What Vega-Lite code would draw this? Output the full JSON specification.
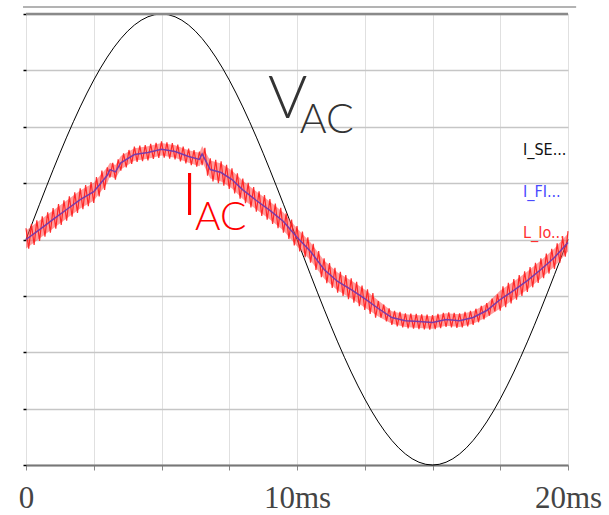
{
"$schema": "https://vega.github.io/schema/vega-lite/v6.json",
"width": 542, "height": 451,
"autosize": {"type": "none"},
"padding": {"left": 26, "top": 14, "right": 41, "bottom": 50},
"background": "white",
"config": {"view": {"stroke": null}},
"datasets": {
"volt": [{"t":0,"v":0},{"t":0.25,"v":0.0785},{"t":0.5,"v":0.1564},{"t":0.75,"v":0.2334},{"t":1,"v":0.309},{"t":1.25,"v":0.3827},{"t":1.5,"v":0.454},{"t":1.75,"v":0.5225},{"t":2,"v":0.5878},{"t":2.25,"v":0.6494},{"t":2.5,"v":0.7071},{"t":2.75,"v":0.7604},{"t":3,"v":0.809},{"t":3.25,"v":0.8526},{"t":3.5,"v":0.891},{"t":3.75,"v":0.9239},{"t":4,"v":0.9511},{"t":4.25,"v":0.9724},{"t":4.5,"v":0.9877},{"t":4.75,"v":0.9969},{"t":5,"v":1},{"t":5.25,"v":0.9969},{"t":5.5,"v":0.9877},{"t":5.75,"v":0.9724},{"t":6,"v":0.9511},{"t":6.25,"v":0.9239},{"t":6.5,"v":0.891},{"t":6.75,"v":0.8526},{"t":7,"v":0.809},{"t":7.25,"v":0.7604},{"t":7.5,"v":0.7071},{"t":7.75,"v":0.6494},{"t":8,"v":0.5878},{"t":8.25,"v":0.5225},{"t":8.5,"v":0.454},{"t":8.75,"v":0.3827},{"t":9,"v":0.309},{"t":9.25,"v":0.2334},{"t":9.5,"v":0.1564},{"t":9.75,"v":0.0785},{"t":10,"v":0},{"t":10.25,"v":-0.0785},{"t":10.5,"v":-0.1564},{"t":10.75,"v":-0.2334},{"t":11,"v":-0.309},{"t":11.25,"v":-0.3827},{"t":11.5,"v":-0.454},{"t":11.75,"v":-0.5225},{"t":12,"v":-0.5878},{"t":12.25,"v":-0.6494},{"t":12.5,"v":-0.7071},{"t":12.75,"v":-0.7604},{"t":13,"v":-0.809},{"t":13.25,"v":-0.8526},{"t":13.5,"v":-0.891},{"t":13.75,"v":-0.9239},{"t":14,"v":-0.9511},{"t":14.25,"v":-0.9724},{"t":14.5,"v":-0.9877},{"t":14.75,"v":-0.9969},{"t":15,"v":-1},{"t":15.25,"v":-0.9969},{"t":15.5,"v":-0.9877},{"t":15.75,"v":-0.9724},{"t":16,"v":-0.9511},{"t":16.25,"v":-0.9239},{"t":16.5,"v":-0.891},{"t":16.75,"v":-0.8526},{"t":17,"v":-0.809},{"t":17.25,"v":-0.7604},{"t":17.5,"v":-0.7071},{"t":17.75,"v":-0.6494},{"t":18,"v":-0.5878},{"t":18.25,"v":-0.5225},{"t":18.5,"v":-0.454},{"t":18.75,"v":-0.3827},{"t":19,"v":-0.309},{"t":19.25,"v":-0.2334},{"t":19.5,"v":-0.1564},{"t":19.75,"v":-0.0785},{"t":20,"v":0}],
"ripple": [{"t":0,"i":0.05},{"t":0.1,"i":-0.041},{"t":0.2,"i":0.068},{"t":0.3,"i":-0.024},{"t":0.4,"i":0.085},{"t":0.5,"i":-0.006},{"t":0.6,"i":0.103},{"t":0.7,"i":0.012},{"t":0.8,"i":0.121},{"t":0.9,"i":0.03},{"t":1,"i":0.139},{"t":1.1,"i":0.048},{"t":1.2,"i":0.157},{"t":1.3,"i":0.065},{"t":1.4,"i":0.174},{"t":1.5,"i":0.083},{"t":1.6,"i":0.192},{"t":1.7,"i":0.101},{"t":1.8,"i":0.209},{"t":1.9,"i":0.118},{"t":2,"i":0.227},{"t":2.1,"i":0.134},{"t":2.2,"i":0.241},{"t":2.3,"i":0.148},{"t":2.4,"i":0.255},{"t":2.5,"i":0.162},{"t":2.6,"i":0.277},{"t":2.7,"i":0.191},{"t":2.8,"i":0.306},{"t":2.9,"i":0.22},{"t":3,"i":0.32},{"t":3.1,"i":0.275},{"t":3.2,"i":0.34},{"t":3.3,"i":0.265},{"t":3.4,"i":0.355},{"t":3.5,"i":0.305},{"t":3.6,"i":0.382},{"t":3.7,"i":0.32},{"t":3.8,"i":0.397},{"t":3.9,"i":0.335},{"t":4,"i":0.412},{"t":4.1,"i":0.344},{"t":4.2,"i":0.416},{"t":4.3,"i":0.347},{"t":4.4,"i":0.419},{"t":4.5,"i":0.351},{"t":4.6,"i":0.424},{"t":4.7,"i":0.357},{"t":4.8,"i":0.429},{"t":4.9,"i":0.362},{"t":5,"i":0.435},{"t":5.1,"i":0.363},{"t":5.2,"i":0.431},{"t":5.3,"i":0.359},{"t":5.4,"i":0.427},{"t":5.5,"i":0.355},{"t":5.6,"i":0.421},{"t":5.7,"i":0.346},{"t":5.8,"i":0.412},{"t":5.9,"i":0.337},{"t":6,"i":0.403},{"t":6.1,"i":0.33},{"t":6.2,"i":0.396},{"t":6.3,"i":0.323},{"t":6.4,"i":0.39},{"t":6.5,"i":0.33},{"t":6.6,"i":0.407},{"t":6.7,"i":0.283},{"t":6.8,"i":0.36},{"t":6.9,"i":0.257},{"t":7,"i":0.353},{"t":7.1,"i":0.25},{"t":7.2,"i":0.347},{"t":7.3,"i":0.239},{"t":7.4,"i":0.331},{"t":7.5,"i":0.224},{"t":7.6,"i":0.316},{"t":7.7,"i":0.204},{"t":7.8,"i":0.293},{"t":7.9,"i":0.181},{"t":8,"i":0.27},{"t":8.1,"i":0.161},{"t":8.2,"i":0.251},{"t":8.3,"i":0.142},{"t":8.4,"i":0.232},{"t":8.5,"i":0.123},{"t":8.6,"i":0.214},{"t":8.7,"i":0.105},{"t":8.8,"i":0.197},{"t":8.9,"i":0.088},{"t":9,"i":0.179},{"t":9.1,"i":0.069},{"t":9.2,"i":0.159},{"t":9.3,"i":0.05},{"t":9.4,"i":0.14},{"t":9.5,"i":0.03},{"t":9.6,"i":0.116},{"t":9.7,"i":0.002},{"t":9.8,"i":0.088},{"t":9.9,"i":-0.026},{"t":10,"i":0.06},{"t":10.1,"i":-0.053},{"t":10.2,"i":0.035},{"t":10.3,"i":-0.078},{"t":10.4,"i":0.01},{"t":10.5,"i":-0.103},{"t":10.6,"i":-0.019},{"t":10.7,"i":-0.135},{"t":10.8,"i":-0.051},{"t":10.9,"i":-0.167},{"t":11,"i":-0.083},{"t":11.1,"i":-0.194},{"t":11.2,"i":-0.105},{"t":11.3,"i":-0.215},{"t":11.4,"i":-0.126},{"t":11.5,"i":-0.236},{"t":11.6,"i":-0.143},{"t":11.7,"i":-0.25},{"t":11.8,"i":-0.158},{"t":11.9,"i":-0.265},{"t":12,"i":-0.172},{"t":12.1,"i":-0.28},{"t":12.2,"i":-0.188},{"t":12.3,"i":-0.296},{"t":12.4,"i":-0.204},{"t":12.5,"i":-0.312},{"t":12.6,"i":-0.221},{"t":12.7,"i":-0.33},{"t":12.8,"i":-0.238},{"t":12.9,"i":-0.347},{"t":13,"i":-0.273},{"t":13.1,"i":-0.347},{"t":13.2,"i":-0.289},{"t":13.3,"i":-0.363},{"t":13.4,"i":-0.305},{"t":13.5,"i":-0.379},{"t":13.6,"i":-0.316},{"t":13.7,"i":-0.385},{"t":13.8,"i":-0.321},{"t":13.9,"i":-0.39},{"t":14,"i":-0.327},{"t":14.1,"i":-0.394},{"t":14.2,"i":-0.329},{"t":14.3,"i":-0.395},{"t":14.4,"i":-0.33},{"t":14.5,"i":-0.397},{"t":14.6,"i":-0.332},{"t":14.7,"i":-0.399},{"t":14.8,"i":-0.333},{"t":14.9,"i":-0.4},{"t":15,"i":-0.335},{"t":15.1,"i":-0.398},{"t":15.2,"i":-0.33},{"t":15.3,"i":-0.393},{"t":15.4,"i":-0.325},{"t":15.5,"i":-0.388},{"t":15.6,"i":-0.323},{"t":15.7,"i":-0.39},{"t":15.8,"i":-0.325},{"t":15.9,"i":-0.392},{"t":16,"i":-0.327},{"t":16.1,"i":-0.39},{"t":16.2,"i":-0.321},{"t":16.3,"i":-0.385},{"t":16.4,"i":-0.316},{"t":16.5,"i":-0.379},{"t":16.6,"i":-0.307},{"t":16.7,"i":-0.367},{"t":16.8,"i":-0.294},{"t":16.9,"i":-0.354},{"t":17,"i":-0.282},{"t":17.1,"i":-0.338},{"t":17.2,"i":-0.262},{"t":17.3,"i":-0.319},{"t":17.4,"i":-0.243},{"t":17.5,"i":-0.316},{"t":17.6,"i":-0.208},{"t":17.7,"i":-0.3},{"t":17.8,"i":-0.192},{"t":17.9,"i":-0.284},{"t":18,"i":-0.176},{"t":18.1,"i":-0.267},{"t":18.2,"i":-0.158},{"t":18.3,"i":-0.25},{"t":18.4,"i":-0.141},{"t":18.5,"i":-0.232},{"t":18.6,"i":-0.122},{"t":18.7,"i":-0.212},{"t":18.8,"i":-0.103},{"t":18.9,"i":-0.193},{"t":19,"i":-0.083},{"t":19.1,"i":-0.172},{"t":19.2,"i":-0.062},{"t":19.3,"i":-0.151},{"t":19.4,"i":-0.041},{"t":19.5,"i":-0.13},{"t":19.6,"i":-0.017},{"t":19.7,"i":-0.103},{"t":19.8,"i":0.01},{"t":19.9,"i":-0.076},{"t":20,"i":0.037}],
"center": [{"t":0,"i":0,"lo":-0.04,"hi":0.04},{"t":0.5,"i":0.044,"lo":0.004,"hi":0.084},{"t":1,"i":0.089,"lo":0.049,"hi":0.129},{"t":1.5,"i":0.133,"lo":0.093,"hi":0.173},{"t":2,"i":0.177,"lo":0.137,"hi":0.217},{"t":2.5,"i":0.212,"lo":0.172,"hi":0.252},{"t":3,"i":0.285,"lo":0.25,"hi":0.32},{"t":3.1,"i":0.31,"lo":0.28,"hi":0.34},{"t":3.3,"i":0.3,"lo":0.27,"hi":0.33},{"t":3.5,"i":0.34,"lo":0.31,"hi":0.37},{"t":4,"i":0.377,"lo":0.349,"hi":0.405},{"t":4.5,"i":0.386,"lo":0.358,"hi":0.414},{"t":5,"i":0.4,"lo":0.372,"hi":0.428},{"t":5.5,"i":0.39,"lo":0.362,"hi":0.418},{"t":6,"i":0.368,"lo":0.34,"hi":0.396},{"t":6.4,"i":0.355,"lo":0.325,"hi":0.385},{"t":6.5,"i":0.38,"lo":0.345,"hi":0.415},{"t":6.8,"i":0.31,"lo":0.27,"hi":0.35},{"t":7.2,"i":0.297,"lo":0.257,"hi":0.337},{"t":7.6,"i":0.266,"lo":0.226,"hi":0.306},{"t":8,"i":0.22,"lo":0.18,"hi":0.26},{"t":8.5,"i":0.173,"lo":0.133,"hi":0.213},{"t":9,"i":0.129,"lo":0.089,"hi":0.169},{"t":9.5,"i":0.08,"lo":0.04,"hi":0.12},{"t":10,"i":0.01,"lo":-0.03,"hi":0.05},{"t":10.5,"i":-0.053,"lo":-0.093,"hi":-0.013},{"t":11,"i":-0.133,"lo":-0.173,"hi":-0.093},{"t":11.5,"i":-0.186,"lo":-0.226,"hi":-0.146},{"t":12,"i":-0.222,"lo":-0.262,"hi":-0.182},{"t":12.5,"i":-0.262,"lo":-0.302,"hi":-0.222},{"t":13,"i":-0.306,"lo":-0.341,"hi":-0.271},{"t":13.5,"i":-0.346,"lo":-0.374,"hi":-0.318},{"t":14,"i":-0.36,"lo":-0.388,"hi":-0.332},{"t":14.5,"i":-0.364,"lo":-0.392,"hi":-0.336},{"t":15,"i":-0.368,"lo":-0.396,"hi":-0.34},{"t":15.5,"i":-0.355,"lo":-0.383,"hi":-0.327},{"t":16,"i":-0.36,"lo":-0.388,"hi":-0.332},{"t":16.5,"i":-0.346,"lo":-0.374,"hi":-0.318},{"t":17,"i":-0.315,"lo":-0.345,"hi":-0.285},{"t":17.5,"i":-0.266,"lo":-0.306,"hi":-0.226},{"t":18,"i":-0.226,"lo":-0.266,"hi":-0.186},{"t":18.5,"i":-0.182,"lo":-0.222,"hi":-0.142},{"t":19,"i":-0.133,"lo":-0.173,"hi":-0.093},{"t":19.5,"i":-0.08,"lo":-0.12,"hi":-0.04},{"t":20,"i":-0.013,"lo":-0.053,"hi":0.027}]
},
"layer": [
{
"data": {"name": "volt"},
"mark": {"type": "line", "color": "#000000", "strokeWidth": 1},
"encoding": {
"x": {"field": "t", "type": "quantitative", "scale": {"domain": [0, 20], "nice": false, "zero": false},
"axis": {"title": null, "values": [0, 2.5, 5, 7.5, 10, 12.5, 15, 17.5, 20], "grid": true, "gridColor": "#e0e0e0", "gridWidth": 1,
"domainColor": "#777777", "domainWidth": 2, "tickColor": "#888888", "tickSize": 5, "tickWidth": 1,
"labelExpr": "datum.value == 0 ? '0' : (datum.value == 10 || datum.value == 20 ? datum.value + 'ms' : '')",
"labelFont": "Liberation Serif", "labelFontSize": 31, "labelColor": "#444444", "labelFlush": false, "labelOverlap": false, "labelBound": false,
"labelBaseline": "alphabetic", "labelPadding": 37}},
"y": {"field": "v", "type": "quantitative", "scale": {"domain": [-1, 1], "nice": false, "zero": false},
"axis": {"title": null, "values": [-1, -0.75, -0.5, -0.25, 0, 0.25, 0.5, 0.75, 1], "grid": true, "gridColor": "#c6c6c6", "gridWidth": 1.5,
"domain": false, "labels": false, "tickColor": "#000000", "tickSize": 3, "tickWidth": 1.5}}
}
},
{
"data": {"values": [{"v": 1}]},
"mark": {"type": "rule", "color": "#8a8a8a", "strokeWidth": 2.5},
"encoding": {"y": {"field": "v", "type": "quantitative"}}
},
{
"data": {"values": [{"t0": -0.11, "t1": 20.3, "v": 1.031}]},
"mark": {"type": "rule", "color": "#9a9a9a", "strokeWidth": 1.5, "clip": false},
"encoding": {"x": {"field": "t0", "type": "quantitative"}, "x2": {"field": "t1"}, "y": {"field": "v", "type": "quantitative"}}
},
{
"data": {"name": "center"},
"mark": {"type": "area", "color": "#ff5050", "opacity": 0.55},
"encoding": {"x": {"field": "t", "type": "quantitative"}, "y": {"field": "lo", "type": "quantitative"}, "y2": {"field": "hi"}}
},
{
"data": {"name": "ripple"},
"mark": {"type": "line", "color": "#ff1a1a", "strokeWidth": 1.2, "opacity": 0.9},
"encoding": {"x": {"field": "t", "type": "quantitative"}, "y": {"field": "i", "type": "quantitative"}}
},
{
"data": {"name": "center"},
"mark": {"type": "line", "color": "#7a3aa8", "strokeWidth": 1.5},
"encoding": {"x": {"field": "t", "type": "quantitative"}, "y": {"field": "i", "type": "quantitative"}}
},
{
"data": {"values": [{"t": 8.93, "v": 0.539, "txt": "V"}]},
"mark": {"type": "text", "font": "Lato", "fontWeight": 300, "fontSize": 60, "color": "#333333", "align": "left", "baseline": "alphabetic"},
"encoding": {"x": {"field": "t", "type": "quantitative"}, "y": {"field": "v", "type": "quantitative"}, "text": {"field": "txt"}}
},
{
"data": {"values": [{"t": 10.1, "v": 0.472, "txt": "AC"}]},
"mark": {"type": "text", "font": "Lato", "fontWeight": 300, "fontSize": 41, "color": "#333333", "align": "left", "baseline": "alphabetic"},
"encoding": {"x": {"field": "t", "type": "quantitative"}, "y": {"field": "v", "type": "quantitative"}, "text": {"field": "txt"}}
},
{
"data": {"values": [{"t": 5.75, "v": 0.109, "txt": "I"}]},
"mark": {"type": "text", "font": "Lato", "fontWeight": 300, "fontSize": 60, "color": "#ff0000", "align": "left", "baseline": "alphabetic"},
"encoding": {"x": {"field": "t", "type": "quantitative"}, "y": {"field": "v", "type": "quantitative"}, "text": {"field": "txt"}}
},
{
"data": {"values": [{"t": 6.24, "v": 0.042, "txt": "AC"}]},
"mark": {"type": "text", "font": "Lato", "fontWeight": 300, "fontSize": 39, "color": "#ff0000", "align": "left", "baseline": "alphabetic"},
"encoding": {"x": {"field": "t", "type": "quantitative"}, "y": {"field": "v", "type": "quantitative"}, "text": {"field": "txt"}}
},
{
"data": {"values": [{"t": 18.34, "v": 0.375, "txt": "I_SE...", "s": "I_SE"}, {"t": 18.34, "v": 0.188, "txt": "I_FI...", "s": "I_FI"}, {"t": 18.34, "v": 0.007, "txt": "L_Io...", "s": "L_Io"}]},
"mark": {"type": "text", "font": "DejaVu Sans Condensed", "fontSize": 16, "align": "left", "baseline": "alphabetic"},
"encoding": {"x": {"field": "t", "type": "quantitative"}, "y": {"field": "v", "type": "quantitative"}, "text": {"field": "txt"},
"color": {"field": "s", "type": "nominal", "scale": {"domain": ["I_SE", "I_FI", "L_Io"], "range": ["#111111", "#4a4aff", "#ff3030"]}, "legend": null}}
}
]
}
